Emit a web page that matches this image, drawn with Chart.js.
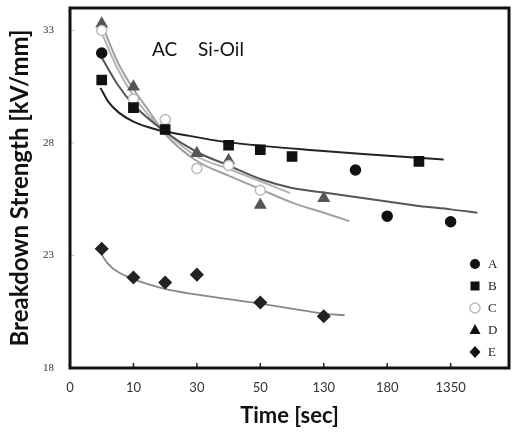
<!DOCTYPE html>
<html>
<head>
<meta charset="utf-8">
<script src="https://cdn.jsdelivr.net/npm/chart.js@4.4.1/dist/chart.umd.min.js"></script>
<style>
  body { margin: 0; background: #fff; }
  #wrap { width: 517px; height: 436px; }
</style>
</head>
<body>
<div id="wrap"><canvas id="chart"></canvas></div>
<script>
// tick labels of the time axis; x values below are in tick-index units
// (0.5 = halfway between two labelled ticks)
const timeLabels = ['0', '10', '30', '50', '130', '180', '1350'];
const yTicks = [18, 23, 28, 33];

// measured points
const aX = [0.5, 4.5, 5, 6];
const aY = [32.0, 26.8, 24.75, 24.5];
const bX = [0.5, 1, 1.5, 2.5, 3, 3.5, 5.5];
const bY = [30.8, 29.57, 28.6, 27.9, 27.7, 27.4, 27.18];
const cX = [0.5, 1, 1.5, 2, 2.5, 3];
const cY = [33.0, 29.96, 29.04, 26.87, 27.0, 25.9];
const dX = [0.5, 1, 2, 2.5, 3, 4];
const dY = [33.3, 30.5, 27.54, 27.23, 25.24, 25.55];
const eX = [0.5, 1, 1.5, 2, 3, 4];
const eY = [23.3, 22.02, 21.8, 22.15, 20.91, 20.3];

// fitted curves
const fitAX = [0.5, 0.75, 1, 1.5, 2, 2.5, 3, 3.5, 4, 4.5, 5, 5.5, 6, 6.42];
const fitAY = [31.8, 30.6, 29.7, 28.5, 27.6, 27.0, 26.4, 26.0, 25.8, 25.6, 25.4, 25.2, 25.05, 24.9];
const fitBX = [0.48, 0.6, 0.77, 1, 1.36, 1.78, 2.44, 3.1, 3.73, 4.67, 5.89];
const fitBY = [30.45, 29.85, 29.35, 28.95, 28.6, 28.37, 28.05, 27.85, 27.7, 27.5, 27.27];
const fitCX = [0.5, 0.75, 1, 1.25, 1.5, 2, 2.5, 3, 3.47];
const fitCY = [32.9, 31.3, 30.1, 29.2, 28.5, 27.4, 26.85, 26.3, 25.77];
const fitDX = [0.5, 0.75, 1, 1.25, 1.5, 2, 2.5, 3, 3.5, 4, 4.4];
const fitDY = [33.3, 31.6, 30.4, 29.4, 28.4, 27.2, 26.55, 25.95, 25.35, 24.9, 24.53];
const fitEX = [0.48, 0.53, 0.66, 0.98, 1.48, 1.98, 2.98, 3.97, 4.33];
const fitEY = [23.2, 22.9, 22.46, 21.97, 21.53, 21.27, 20.87, 20.43, 20.34];

const seriesNames = ['A', 'B', 'C', 'D', 'E'];

const pairs = (xs, ys) => xs.map((x, i) => ({ x: x, y: ys[i] }));

function pointSet(name, xs, ys, style, radius, fill, stroke) {
    return {
        label: name,
        data: pairs(xs, ys),
        showLine: false,
        pointStyle: style,
        pointRadius: radius,
        pointBackgroundColor: fill,
        pointBorderColor: stroke,
        pointBorderWidth: 1.5
    };
}

function fitSet(xs, ys, color, width) {
    return {
        label: 'fit',
        data: pairs(xs, ys),
        showLine: true,
        pointRadius: 0,
        borderColor: color,
        borderWidth: width,
        tension: 0.4,
        cubicInterpolationMode: 'monotone'
    };
}

// frame, inward ticks, annotation and legend
const decorations = {
    id: 'decorations',
    afterDraw(chart) {
        const { ctx, chartArea: a, scales } = chart;
        ctx.save();

        // inward tick marks
        ctx.strokeStyle = '#222';
        ctx.lineWidth = 1.5;
        for (let i = 1; i < timeLabels.length; i++) {
            const x = scales.x.getPixelForValue(i);
            ctx.beginPath();
            ctx.moveTo(x, a.bottom);
            ctx.lineTo(x, a.bottom - 5);
            ctx.stroke();
        }
        ctx.strokeStyle = '#bbb';
        ctx.lineWidth = 1;
        yTicks.slice(1).forEach(v => {
            const y = scales.y.getPixelForValue(v);
            ctx.beginPath();
            ctx.moveTo(a.left, y);
            ctx.lineTo(a.left + 4, y);
            ctx.stroke();
        });

        // frame
        ctx.strokeStyle = '#111';
        ctx.lineWidth = 3;
        ctx.strokeRect(a.left, a.top, a.right - a.left, a.bottom - a.top);

        // annotation
        ctx.fillStyle = '#111';
        ctx.font = '19px Lato';
        ctx.textBaseline = 'alphabetic';
        ctx.fillText('AC', 152, 56);
        ctx.fillText('Si-Oil', 198, 56);

        // legend
        ctx.font = '13px "Liberation Serif"';
        ctx.textBaseline = 'middle';
        const lx = 475, ly = 264, step = 22;
        seriesNames.forEach((name, i) => {
            const y = ly + i * step;
            ctx.beginPath();
            if (name === 'A') {
                ctx.fillStyle = '#111';
                ctx.arc(lx, y, 5, 0, Math.PI * 2);
                ctx.fill();
            } else if (name === 'B') {
                ctx.fillStyle = '#111';
                ctx.fillRect(lx - 4.5, y - 4.5, 9, 9);
            } else if (name === 'C') {
                ctx.strokeStyle = '#bbb';
                ctx.lineWidth = 1.5;
                ctx.arc(lx, y, 5, 0, Math.PI * 2);
                ctx.stroke();
            } else if (name === 'D') {
                ctx.fillStyle = '#111';
                ctx.moveTo(lx, y - 6);
                ctx.lineTo(lx + 5.5, y + 4);
                ctx.lineTo(lx - 5.5, y + 4);
                ctx.closePath();
                ctx.fill();
            } else {
                ctx.fillStyle = '#111';
                ctx.moveTo(lx, y - 6);
                ctx.lineTo(lx + 5.5, y);
                ctx.lineTo(lx, y + 6);
                ctx.lineTo(lx - 5.5, y);
                ctx.closePath();
                ctx.fill();
            }
            ctx.fillStyle = '#222';
            ctx.fillText(name, lx + 13, y + 1);
        });
        ctx.restore();
    }
};

document.addEventListener('DOMContentLoaded', function () {
    const ctx = document.getElementById('chart').getContext('2d');
    new Chart(ctx, {
        type: 'scatter',
        data: {
            datasets: [
                pointSet('A', aX, aY, 'circle', 5, '#111', '#111'),
                pointSet('B', bX, bY, 'rect', 6.5, '#111', '#111'),
                pointSet('C', cX, cY, 'circle', 5, '#fff', '#bbb'),
                pointSet('D', dX, dY, 'triangle', 6, '#555', '#555'),
                pointSet('E', eX, eY, 'rectRot', 6, '#222', '#222'),
                fitSet(fitAX, fitAY, '#555', 2),
                fitSet(fitBX, fitBY, '#222', 2),
                fitSet(fitCX, fitCY, '#b4b4b4', 2),
                fitSet(fitDX, fitDY, '#a0a0a0', 2),
                fitSet(fitEX, fitEY, '#888', 1.8)
            ]
        },
        options: {
            responsive: true,
            maintainAspectRatio: false,
            animation: false,
            layout: { padding: { top: 0, right: 3, left: 0, bottom: 0 } },
            plugins: {
                legend: { display: false },
                tooltip: { enabled: false }
            },
            scales: {
                x: {
                    type: 'linear',
                    min: 0,
                    max: 6.92,
                    afterBuildTicks: s => { s.ticks = timeLabels.map((_, i) => ({ value: i })); },
                    afterFit: s => { s.height = 68; },
                    grid: { display: false },
                    border: { display: false },
                    ticks: {
                        callback: v => timeLabels[v],
                        autoSkip: false,
                        maxRotation: 0,
                        padding: 4,
                        color: '#333',
                        font: { family: 'Lato', size: 13 }
                    },
                    title: {
                        display: true,
                        text: 'Time [sec]',
                        color: '#111',
                        padding: { top: 0, bottom: 7 },
                        font: { family: 'Lato', size: 22, weight: 'bold' }
                    }
                },
                y: {
                    min: 18,
                    max: 34,
                    afterBuildTicks: s => { s.ticks = yTicks.map(v => ({ value: v })); },
                    afterFit: s => { s.width = 70; },
                    grid: { display: false, tickLength: 16 },
                    border: { display: false },
                    ticks: {
                        padding: 0,
                        color: '#333',
                        font: { family: 'Liberation Serif', size: 11 }
                    },
                    title: {
                        display: true,
                        text: 'Breakdown Strength [kV/mm]',
                        color: '#111',
                        padding: { top: 6, bottom: 0 },
                        font: { family: 'Lato', size: 24, weight: 'bold' }
                    }
                }
            }
        },
        plugins: [decorations]
    });
});
</script>
</body>
</html>
